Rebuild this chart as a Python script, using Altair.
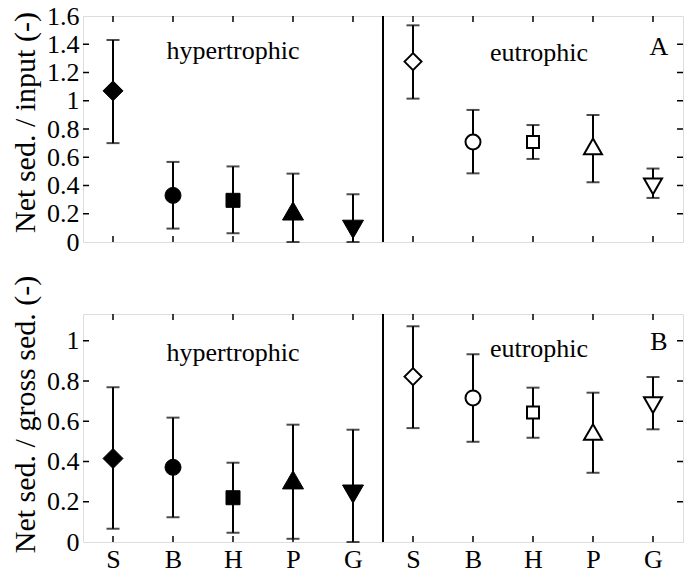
import altair as alt
import pandas as pd

FONT = "Liberation Serif"

categories = ["S", "B", "H", "P", "G"]
groups = ["hypertrophic", "eutrophic"]
shapes = ["diamond", "circle", "square", "triangle-up", "triangle-down"]

# Panel A: Net sed. / input
a_hyper_mean = [1.07, 0.33, 0.295, 0.22, 0.09]
a_hyper_lo = [0.70, 0.095, 0.062, 0.0, 0.0]
a_hyper_hi = [1.43, 0.567, 0.535, 0.484, 0.338]
a_eu_mean = [1.277, 0.708, 0.708, 0.677, 0.394]
a_eu_lo = [1.015, 0.486, 0.588, 0.423, 0.312]
a_eu_hi = [1.534, 0.935, 0.828, 0.899, 0.52]

# Panel B: Net sed. / gross sed.
b_hyper_mean = [0.415, 0.371, 0.22, 0.309, 0.238]
b_hyper_lo = [0.066, 0.123, 0.046, 0.016, 0.0]
b_hyper_hi = [0.769, 0.618, 0.394, 0.583, 0.558]
b_eu_mean = [0.822, 0.716, 0.643, 0.547, 0.68]
b_eu_lo = [0.566, 0.498, 0.518, 0.344, 0.56]
b_eu_hi = [1.072, 0.933, 0.767, 0.742, 0.82]

a_yticks = [0, 0.2, 0.4, 0.6, 0.8, 1.0, 1.2, 1.4, 1.6]
b_yticks = [0, 0.2, 0.4, 0.6, 0.8, 1.0]
x_positions = list(range(1, 11))

filled_sizes = [400, 256, 196, 441, 441]
open_sizes = [289, 225, 144, 324, 324]

W = 600
HA = 226
HB = 228
XDOM = [0.5, 10.5]


def make_df(hm, hl, hh, em, el, eh):
    rows = []
    for gi, (m, l, h) in enumerate([(hm, hl, hh), (em, el, eh)]):
        for i, c in enumerate(categories):
            rows.append({
                "x": gi * 5 + i + 1,
                "cat": c,
                "group": groups[gi],
                "mean": m[i], "lo": l[i], "hi": h[i],
                "shape": shapes[i],
                "fill": "black" if gi == 0 else "white",
                "size": filled_sizes[i] if gi == 0 else open_sizes[i],
                "sw": 1 if gi == 0 else 2,
            })
    return pd.DataFrame(rows)


def panel(df, yticks, ydom, height, title, title_y, labels_df, show_x_labels):
    xscale = alt.Scale(domain=XDOM, nice=False, zero=False)
    yscale = alt.Scale(domain=ydom, nice=False, zero=False)
    if show_x_labels:
        xaxis = alt.Axis(values=x_positions, labelExpr="['S','B','H','P','G'][(datum.value-1)%5]",
                         labelFont=FONT, labelFontSize=26, labelColor="black", labelPadding=4,
                         labelOverlap=False, ticks=False, tickSize=0, domain=False, grid=False,
                         title=None)
    else:
        xaxis = None
    yaxis = alt.Axis(values=yticks, labelExpr="format(datum.value, '~g')", labelFont=FONT,
                     labelFontSize=26, labelColor="black", tickCount=len(yticks),
                     labelPadding=4, labelOverlap=False, ticks=False, tickSize=0, domain=False,
                     grid=False, title=title, titleFont=FONT, titleFontSize=30,
                     titleFontWeight="normal", titleColor="black", titlePadding=6, titleY=title_y)

    def X(f):
        return alt.X(f, scale=xscale, axis=xaxis)

    def Y(f):
        return alt.Y(f, scale=yscale, axis=yaxis)

    base = alt.Chart(df)
    rules = base.mark_rule(color="black", strokeWidth=2).encode(
        x=X("x:Q"), y=Y("lo:Q"), y2="hi:Q")
    cap_lo = base.mark_tick(color="black", orient="horizontal", size=13, thickness=2).encode(
        x=X("x:Q"), y=Y("lo:Q"))
    cap_hi = base.mark_tick(color="black", orient="horizontal", size=13, thickness=2).encode(
        x=X("x:Q"), y=Y("hi:Q"))
    pts = base.mark_point(opacity=1, stroke="black", filled=False).encode(
        x=X("x:Q"), y=Y("mean:Q"),
        shape=alt.Shape("shape:N", scale=None),
        fill=alt.Fill("fill:N", scale=None),
        size=alt.Size("size:Q", scale=None),
        strokeWidth=alt.StrokeWidth("sw:Q", scale=None),
    )
    divider = alt.Chart(pd.DataFrame({"x": [5.5]})).mark_rule(color="black", strokeWidth=2).encode(
        x=X("x:Q"), y=alt.value(0), y2=alt.value(height))
    ydf = pd.DataFrame({"y": [v for v in yticks if 0 < v < ydom[1]]})
    lt = alt.Chart(ydf).mark_rule(color="black", strokeWidth=1.5).encode(
        y=Y("y:Q"), x=alt.value(0), x2=alt.value(6))
    rt = alt.Chart(ydf).mark_rule(color="black", strokeWidth=1.5).encode(
        y=Y("y:Q"), x=alt.value(W - 6), x2=alt.value(W))
    xdf = pd.DataFrame({"x": x_positions})
    tt = alt.Chart(xdf).mark_rule(color="black", strokeWidth=1.5).encode(
        x=X("x:Q"), y=alt.value(0), y2=alt.value(6))
    bt = alt.Chart(xdf).mark_rule(color="black", strokeWidth=1.5).encode(
        x=X("x:Q"), y=alt.value(height - 6), y2=alt.value(height))
    txt = alt.Chart(labels_df).mark_text(font=FONT, fontSize=26, color="black", align="center",
                                         baseline="middle").encode(
        x=X("x:Q"), y=Y("y:Q"), text="t:N")
    return alt.layer(rules, cap_lo, cap_hi, pts, divider, lt, rt, tt, bt, txt).properties(
        width=W, height=height)


dfA = make_df(a_hyper_mean, a_hyper_lo, a_hyper_hi, a_eu_mean, a_eu_lo, a_eu_hi)
dfB = make_df(b_hyper_mean, b_hyper_lo, b_hyper_hi, b_eu_mean, b_eu_lo, b_eu_hi)

label_text = ["hypertrophic", "eutrophic"]
labA = pd.DataFrame({"x": [3.0, 8.1, 10.1], "y": [1.35, 1.34, 1.38], "t": label_text + ["A"]})
labB = pd.DataFrame({"x": [3.0, 8.1, 10.1], "y": [0.94, 0.96, 0.995], "t": label_text + ["B"]})

pA = panel(dfA, a_yticks, [0, 1.6], HA, "Net sed. / input (-)", HA / 2 - 7, labA, False)
pB = panel(dfB, b_yticks, [0, 1.133], HB, "Net sed. / gross sed. (-)", HB / 2 - 14, labB, True)

chart = alt.vconcat(pA, pB, spacing=18).properties(
    padding={"left": 9, "top": 2, "right": 0, "bottom": 0}
).configure_view(stroke="black", strokeWidth=2).configure_axis(
    labelOverlap=False
).configure(background="white")

chart.save("out.html", embed_options={"renderer": "svg", "actions": False})
